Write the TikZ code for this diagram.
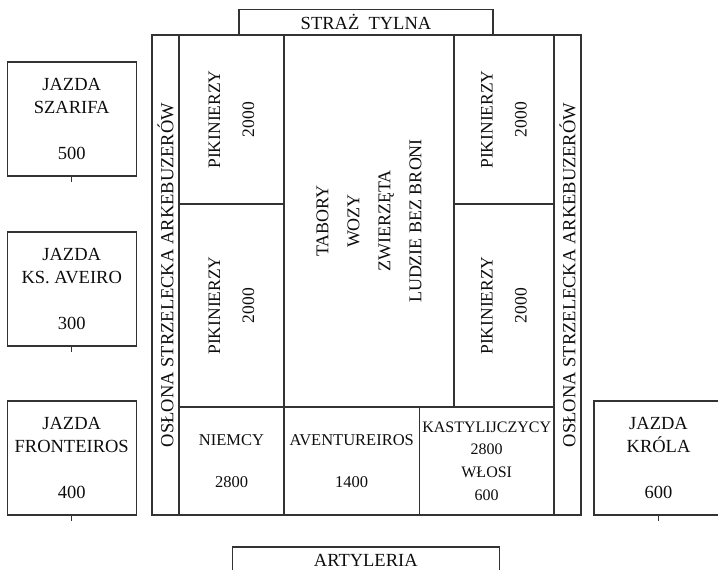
\documentclass[tikz,border=0pt]{standalone}
\usepackage{fontspec}
\setmainfont{Liberation Serif}
\tikzset{
  unitblock/.style={
    rectangle,
    draw=black!80, line width=1.1pt,
    text=black!95,
    inner sep=0pt, outer sep=0pt,
    align=center,
    font=\fontsize{18.5}{21}\selectfont},
  sideblock/.style={
    unitblock,
    minimum width=129pt,
    minimum height=114pt,
    font=\fontsize{18.5}{23}\selectfont},
  guardblock/.style={
    unitblock,
    minimum height=26pt},
  tallblock/.style={
    unitblock,
    rotate=90},
  pikeblock/.style={
    tallblock,
    font=\fontsize{17.5}{34}\selectfont},
  lowblock/.style={
    unitblock,
    minimum height=108pt,
    font=\fontsize{16.5}{42}\selectfont},
  sidetick/.style={draw=black!80, line width=1.1pt},
}
\begin{document}
\begin{tikzpicture}[x=1pt, y=-1pt]
  \useasboundingbox (0,0) rectangle (718,570);
     \node[sideblock] (szarifa)    at (71.7,119) {JAZDA\\SZARIFA\\[23pt]500};
     \node[sideblock] (aveiro)     at (71.7,289) {JAZDA\\KS. AVEIRO\\[23pt]300};
     \node[sideblock] (fronteiros) at (71.7,458) {JAZDA\\FRONTEIROS\\[23pt]400};
     \node[sideblock] (krola)      at (658.5,458) {JAZDA\\KRÓLA\\[23pt]600};
     \foreach \wing in {szarifa,aveiro,fronteiros,krola}
       \draw[sidetick] (\wing.south) -- ++(0,6);

     \node[guardblock, minimum width=254pt] (straz) at (366,22.3) {STRAŻ\ \ TYLNA};
     \node[guardblock, minimum width=267pt] (artyleria) at (365.8,560) {ARTYLERIA};

     \node[tallblock, minimum width=480pt, minimum height=27pt,
       font=\fontsize{18.5}{21}\selectfont] (oslonaL) at (165.5,275) {OSŁONA STRZELECKA ARKEBUZERÓW};
     \node[tallblock, minimum width=480pt, minimum height=27pt,
       font=\fontsize{18.5}{21}\selectfont] (oslonaR) at (567.5,275) {OSŁONA STRZELECKA ARKEBUZERÓW};

     \node[pikeblock, minimum width=169pt, minimum height=105pt] (pikeLT) at (231.5,119.5) {PIKINIERZY\\2000};
     \node[pikeblock, minimum width=203pt, minimum height=105pt] (pikeLB) at (231.5,305.5) {PIKINIERZY\\2000};
     \node[pikeblock, minimum width=169pt, minimum height=100pt] (pikeRT) at (504,119.5) {PIKINIERZY\\2000};
     \node[pikeblock, minimum width=203pt, minimum height=100pt] (pikeRB) at (504,305.5) {PIKINIERZY\\2000};

     \node[tallblock, minimum width=372pt, minimum height=170pt,
       font=\fontsize{18}{31}\selectfont] (tabory) at (369,221) {TABORY\\WOZY\\ZWIERZĘTA\\LUDZIE BEZ BRONI};

     \node[lowblock, minimum width=105pt] (niemcy) at (231.5,461) {NIEMCY\\2800};
     \node[lowblock, minimum width=135.3pt] (aventureiros) at (351.7,461) {AVENTUREIROS\\1400};
     \node[lowblock, minimum width=134.7pt,
       font=\fontsize{16}{22.8}\selectfont] (kastylia) at (486.7,461) {KASTYLIJCZYCY\\2800\\WŁOSI\\600};
\end{tikzpicture}
\end{document}
